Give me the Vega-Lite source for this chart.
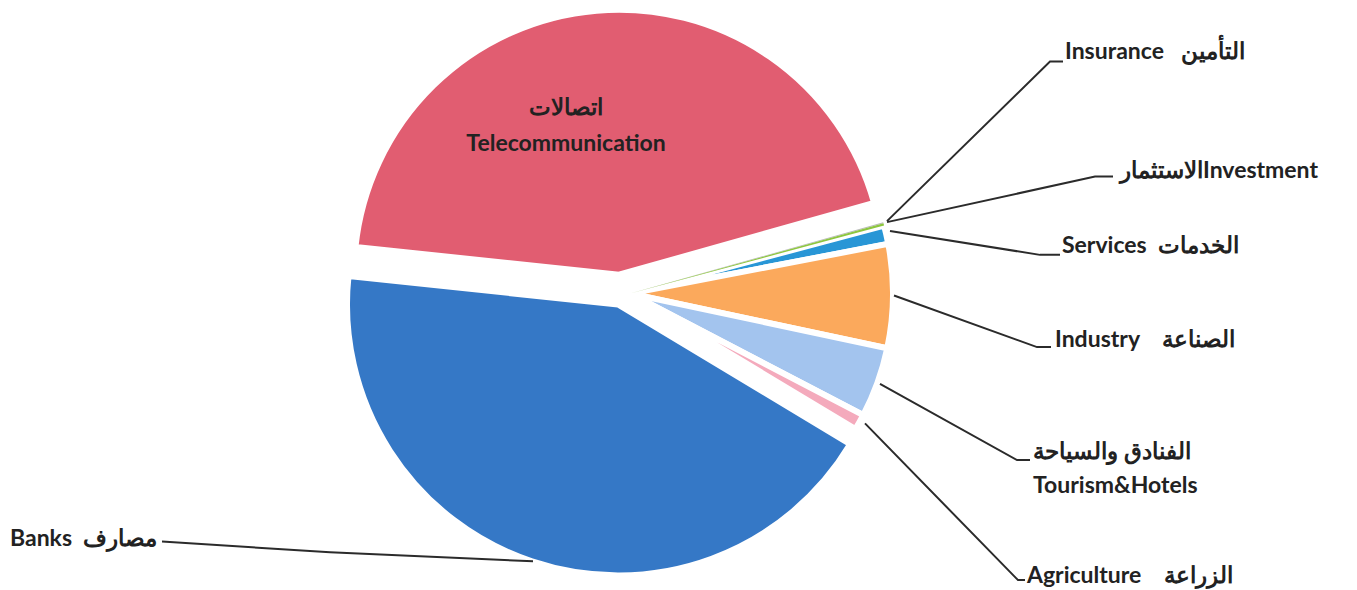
{
  "$schema": "https://vega.github.io/schema/vega-lite/v6.json",
  "width": 1357,
  "height": 590,
  "autosize": {"type": "fit", "contains": "padding"},
  "padding": 0,
  "background": "white",
  "config": {"view": {"stroke": null}},
  "datasets": {
    "slices": [
      {"cat": "Telecommunication", "v": 43.97, "idx": 1},
      {"cat": "Insurance", "v": 0.06, "idx": 2},
      {"cat": "Investment", "v": 0.14, "idx": 3},
      {"cat": "Services", "v": 1.14, "idx": 4},
      {"cat": "Industry", "v": 6.36, "idx": 5},
      {"cat": "Tourism&Hotels", "v": 4.31, "idx": 6},
      {"cat": "Agriculture", "v": 0.97, "idx": 7},
      {"cat": "Banks", "v": 43.05, "idx": 8}
    ],
    "leaders": [
      {"id": "Insurance", "k": 1, "x": 887, "y": 218},
      {"id": "Insurance", "k": 2, "x": 1050, "y": 57},
      {"id": "Insurance", "k": 3, "x": 1063, "y": 57},
      {"id": "Investment", "k": 1, "x": 887, "y": 219},
      {"id": "Investment", "k": 2, "x": 1095, "y": 173},
      {"id": "Investment", "k": 3, "x": 1113, "y": 173},
      {"id": "Services", "k": 1, "x": 890, "y": 228},
      {"id": "Services", "k": 2, "x": 1040, "y": 252},
      {"id": "Services", "k": 3, "x": 1060, "y": 252},
      {"id": "Industry", "k": 1, "x": 894, "y": 293},
      {"id": "Industry", "k": 2, "x": 1037, "y": 345},
      {"id": "Industry", "k": 3, "x": 1051, "y": 345},
      {"id": "Tourism", "k": 1, "x": 880, "y": 382},
      {"id": "Tourism", "k": 2, "x": 1017, "y": 459},
      {"id": "Tourism", "k": 3, "x": 1030, "y": 459},
      {"id": "Agriculture", "k": 1, "x": 865, "y": 422},
      {"id": "Agriculture", "k": 2, "x": 1018, "y": 580},
      {"id": "Agriculture", "k": 3, "x": 1025, "y": 580},
      {"id": "Banks", "k": 1, "x": 162, "y": 541},
      {"id": "Banks", "k": 2, "x": 330, "y": 552},
      {"id": "Banks", "k": 3, "x": 533, "y": 561}
    ],
    "labels": [
      {"t": "Insurance\u00a0\u00a0\u00a0التأمين", "x": 1065, "y": 47},
      {"t": "الاستثمارInvestment", "x": 1120, "y": 167},
      {"t": "Services\u00a0\u00a0الخدمات", "x": 1062, "y": 243},
      {"t": "Industry\u00a0\u00a0\u00a0\u00a0الصناعة", "x": 1055, "y": 338},
      {"t": "الفنادق والسياحة", "x": 1033, "y": 451},
      {"t": "Tourism&Hotels", "x": 1033, "y": 485},
      {"t": "Agriculture\u00a0\u00a0\u00a0\u00a0الزراعة", "x": 1027, "y": 576},
      {"t": "Banks\u00a0\u00a0مصارف", "x": 10, "y": 539}
    ],
    "inner": [
      {"t": "اتصالات", "x": 566, "y": 104},
      {"t": "Telecommunication", "x": 566, "y": 140}
    ]
  },
  "layer": [
    {
      "data": {"name": "slices"},
      "mark": {"type": "arc", "radius": 271, "stroke": "white", "strokeWidth": 6},
      "encoding": {
        "x": {"datum": 618, "type": "quantitative", "scale": {"domain": [0, 1357], "nice": false, "zero": false}, "axis": null},
        "y": {"datum": 302, "type": "quantitative", "scale": {"domain": [0, 590], "nice": false, "zero": false, "reverse": true}, "axis": null},
        "theta": {"field": "v", "type": "quantitative", "stack": true, "scale": {"range": [4.8171, 11.1003]}},
        "order": {"field": "idx", "type": "quantitative"},
        "color": {"field": "cat", "type": "nominal", "legend": null,
          "scale": {"domain": ["Telecommunication", "Insurance", "Investment", "Services", "Industry", "Tourism&Hotels", "Agriculture", "Banks"],
                    "range": ["#E15D71", "#B8B8B8", "#8DC63F", "#2896D6", "#FBA95C", "#A3C4EE", "#F4AABC", "#3578C6"]}},
        "opacity": {"condition": {"test": "datum.cat === 'Banks'", "value": 1}, "value": 0}
      }
    },
    {
      "data": {"name": "slices"},
      "mark": {"type": "arc", "radius": 265, "stroke": "white", "strokeWidth": 6},
      "encoding": {
        "x": {"datum": 619, "type": "quantitative"},
        "y": {"datum": 272, "type": "quantitative"},
        "theta": {"field": "v", "type": "quantitative", "stack": true},
        "order": {"field": "idx", "type": "quantitative"},
        "color": {"field": "cat", "type": "nominal", "legend": null},
        "opacity": {"condition": {"test": "datum.cat === 'Telecommunication'", "value": 1}, "value": 0}
      }
    },
    {
      "data": {"name": "slices"},
      "mark": {"type": "arc", "radius": 263, "stroke": "white", "strokeWidth": 6},
      "encoding": {
        "x": {"datum": 630, "type": "quantitative"},
        "y": {"datum": 291, "type": "quantitative"},
        "theta": {"field": "v", "type": "quantitative", "stack": true},
        "order": {"field": "idx", "type": "quantitative"},
        "color": {"field": "cat", "type": "nominal", "legend": null},
        "opacity": {"condition": {"test": "indexof(['Services','Industry','Tourism&Hotels','Agriculture'], datum.cat) >= 0", "value": 1}, "value": 0}
      }
    },
    {
      "data": {"name": "slices"},
      "mark": {"type": "arc", "radius": 263},
      "encoding": {
        "x": {"datum": 630, "type": "quantitative"},
        "y": {"datum": 291, "type": "quantitative"},
        "theta": {"field": "v", "type": "quantitative", "stack": true},
        "order": {"field": "idx", "type": "quantitative"},
        "color": {"field": "cat", "type": "nominal", "legend": null},
        "opacity": {"condition": {"test": "indexof(['Insurance','Investment'], datum.cat) >= 0", "value": 1}, "value": 0}
      }
    },
    {
      "data": {"name": "leaders"},
      "mark": {"type": "line", "color": "#2b2b2b", "strokeWidth": 2},
      "encoding": {
        "x": {"field": "x", "type": "quantitative"},
        "y": {"field": "y", "type": "quantitative"},
        "detail": {"field": "id", "type": "nominal"},
        "order": {"field": "k", "type": "quantitative"}
      }
    },
    {
      "data": {"name": "labels"},
      "mark": {"type": "text", "align": "left", "baseline": "middle", "font": "Lato", "fontWeight": "bold", "fontSize": 23, "color": "#222222"},
      "encoding": {
        "x": {"field": "x", "type": "quantitative"},
        "y": {"field": "y", "type": "quantitative"},
        "text": {"field": "t", "type": "nominal"}
      }
    },
    {
      "data": {"name": "inner"},
      "mark": {"type": "text", "align": "center", "baseline": "middle", "font": "Lato", "fontWeight": "bold", "fontSize": 23, "color": "#222222"},
      "encoding": {
        "x": {"field": "x", "type": "quantitative"},
        "y": {"field": "y", "type": "quantitative"},
        "text": {"field": "t", "type": "nominal"}
      }
    }
  ]
}
